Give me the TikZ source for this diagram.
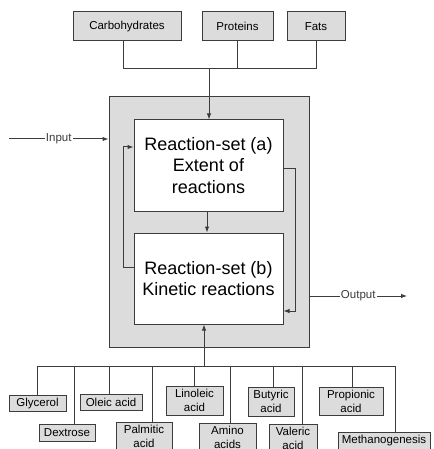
\documentclass[tikz,border=0pt]{standalone}
\usepackage{fontspec}
\setmainfont{Liberation Sans}
\definecolor{BoxGray}{RGB}{220,220,220}
\definecolor{LineGray}{RGB}{60,60,60}
\usetikzlibrary{arrows.meta, positioning, calc}

\begin{document}
\begin{tikzpicture}[x=1pt, y=-1pt,
				src/.style={draw=LineGray, line width=1pt, fill=BoxGray, inner sep=0pt, minimum height=29pt, align=center, font=\fontsize{11.5}{14}\selectfont},
				prod/.style={draw=LineGray, line width=1pt, fill=BoxGray, inner sep=0pt, align=center, font=\fontsize{11.5}{14}\selectfont},
				rset/.style={draw=LineGray, line width=1pt, fill=white, minimum width=149pt, minimum height=91pt, inner sep=0pt, align=center, font=\fontsize{18}{21.5}\selectfont},
				wire/.style={LineGray, line width=1pt},
				arr/.style={-{Latex[length=6pt,width=4.5pt]}, LineGray, line width=1pt}]
			\clip (0,0) rectangle (433,449);
			\fill[white] (0,0) rectangle (433,449);

			% feed stocks
			\node[src, minimum width=108pt] (carbo) at (127,26.5) {Carbohydrates};
			\node[src, minimum width=71pt]  (prot)  at (237.5,26.5) {Proteins};
			\node[src, minimum width=58pt]  (fats)  at (316,26.5) {Fats};
			\coordinate (join) at (209,69);

			% digester with the two reaction sets
			\node[draw=LineGray, line width=1pt, fill=BoxGray, minimum width=200pt, minimum height=250pt] (outer) at (209,222) {};
			\node[rset] (seta) at (208.5,165.5) {Reaction-set (a)\\ Extent of\\ reactions};
			\node[rset] (setb) at (208.5,278.5) {Reaction-set (b)\\ Kinetic reactions};

			% products
			\coordinate (bus) at (204,366);
			\node[prod, minimum width=57pt, minimum height=16pt] (glyc)  at (37.5,403.5) {Glycerol};
			\node[prod, minimum width=56pt, minimum height=17pt] (dext)  at (67,432.5) {Dextrose};
			\node[prod, minimum width=62pt, minimum height=16pt] (oleic) at (111,402.5) {Oleic acid};
			\node[prod, minimum width=56pt, minimum height=29pt] (palm)  at (144,436.5) {Palmitic\\ acid};
			\node[prod, minimum width=57pt, minimum height=29pt] (lino)  at (194.5,400.5) {Linoleic\\ acid};
			\node[prod, minimum width=57pt, minimum height=29pt] (amino) at (227.5,437.5) {Amino\\ acids};
			\node[prod, minimum width=46pt, minimum height=29pt] (buty)  at (271,401.5) {Butyric\\ acid};
			\node[prod, minimum width=48pt, minimum height=29pt] (vale)  at (293,438.5) {Valeric\\ acid};
			\node[prod, minimum width=64pt, minimum height=28pt] (propi) at (351,401) {Propionic\\ acid};
			\node[prod, minimum width=92pt, minimum height=17pt] (meth)  at (384,440.5) {Methanogenesis};

			\coordinate (inp) at (9,139);
			\coordinate (outp) at (407,296);

			% top feed lines
			\draw[wire] ([xshift=-4pt]carbo.south) |- (join);
			\draw[wire] (prot.south) |- (join);
			\draw[wire] (fats.south) |- (join);
			\draw[arr] (join) -- (join |- seta.north);

			% in / out
			\draw[arr] (inp) -- node[fill=white, inner sep=1pt, font=\fontsize{11.5}{14}\selectfont] {Input} (inp -| outer.west);
			\draw[arr] (outer.east |- outp) -- node[fill=white, inner sep=1pt, font=\fontsize{11.5}{14}\selectfont] {Output} (outp);

			% between the reaction sets
			\draw[arr] ([xshift=-1.5pt]seta.south) -- ([xshift=-1.5pt]setb.north);
			\draw[arr] ([yshift=11.5pt]setb.west) -- ++(-10pt,0) |- ([yshift=18.5pt]seta.west);
			\draw[arr] ([yshift=-2.5pt]seta.east) -- ++(12pt,0) |- ([yshift=-32.5pt]setb.east);

			% product bus
			\draw[wire] ([xshift=-0.5pt]glyc.north) |- (bus);
			\draw[wire] ([xshift=7pt]dext.north) |- (bus);
			\draw[wire] ([xshift=-2pt]oleic.north) |- (bus);
			\draw[wire] ([xshift=8pt]palm.north) |- (bus);
			\draw[wire] (lino.north) |- (bus);
			\draw[wire] ([xshift=2.5pt]amino.north) |- (bus);
			\draw[wire] ([xshift=2pt]buty.north) |- (bus);
			\draw[wire] ([xshift=9pt]vale.north) |- (bus);
			\draw[wire] ([xshift=1pt]propi.north) |- (bus);
			\draw[wire] ([xshift=11pt]meth.north) |- (bus);
			\draw[arr] (bus) -- (bus |- setb.south);
		\end{tikzpicture}
\end{document}
